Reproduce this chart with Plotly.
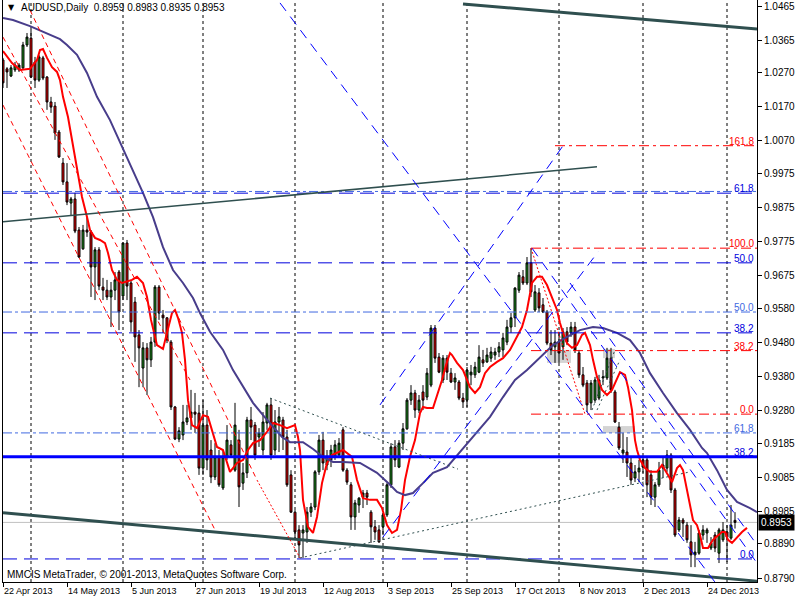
import plotly.graph_objects as go

# ---------------- data ----------------
bars = list(range(184))
opens = [1.0307,1.0281,1.0260,1.0278,1.0278,1.0284,1.0351,1.0371,1.0301,1.0248,
1.0313,1.0257,1.0184,1.0172,1.0096,1.0005,0.9950,0.9888,0.9900,0.9809,
0.9754,0.9809,0.9803,0.9701,0.9751,0.9642,0.9633,0.9613,0.9633,0.9686,
0.9616,0.9771,0.9654,0.9598,0.9502,0.9405,0.9464,0.9429,0.9481,0.9642,
0.9560,0.9552,0.9481,0.9291,0.9197,0.9209,0.9247,0.9259,0.9276,0.9273,
0.9112,0.9238,0.9165,0.9086,0.9145,0.9054,0.9145,0.9180,0.9106,0.9194,
0.9068,0.9098,0.9253,0.9238,0.9203,0.9165,0.9244,0.9297,0.9165,0.9247,
0.9253,0.9203,0.9092,0.8983,0.8931,0.8922,0.8925,0.8983,0.8998,0.9101,
0.9194,0.9121,0.9136,0.9145,0.9150,0.9224,0.9106,0.9063,0.8969,0.9004,
0.9027,0.9039,0.8983,0.8940,0.8931,0.8940,0.8975,0.9063,0.9174,0.9115,
0.9185,0.9227,0.9311,0.9332,0.9282,0.9335,0.9320,0.9355,0.9522,0.9437,
0.9370,0.9434,0.9390,0.9364,0.9364,0.9317,0.9311,0.9385,0.9385,0.9393,
0.9429,0.9423,0.9434,0.9443,0.9452,0.9458,0.9481,0.9525,0.9552,0.9633,
0.9672,0.9654,0.9713,0.9575,0.9625,0.9590,0.9569,0.9478,0.9467,0.9481,
0.9467,0.9511,0.9508,0.9525,0.9449,0.9385,0.9361,0.9303,0.9311,0.9317,
0.9376,0.9376,0.9434,0.9335,0.9232,0.9156,0.9159,0.9127,0.9083,0.9101,
0.9136,0.9136,0.9092,0.9027,0.9063,0.9112,0.9112,0.9150,0.9048,0.8931,
0.8960,0.8945,0.8896,0.8858,0.8863,0.8916,0.8922,0.8878,0.8916,0.8863,
0.8902,0.8925,0.8907,0.8959]
highs = [1.0313,1.0286,1.0292,1.0301,1.0298,1.0360,1.0386,1.0395,1.0316,1.0322,
1.0319,1.0260,1.0199,1.0184,1.0102,1.0020,1.0005,0.9906,0.9918,0.9818,
0.9824,0.9847,0.9809,0.9759,0.9759,0.9669,0.9663,0.9657,0.9686,0.9692,
0.9774,0.9780,0.9663,0.9613,0.9516,0.9481,0.9478,0.9496,0.9648,0.9648,
0.9575,0.9554,0.9487,0.9294,0.9232,0.9297,0.9297,0.9341,0.9332,0.9297,
0.9311,0.9282,0.9194,0.9185,0.9165,0.9165,0.9238,0.9194,0.9303,0.9224,
0.9127,0.9262,0.9291,0.9247,0.9229,0.9276,0.9303,0.9317,0.9282,0.9291,
0.9262,0.9224,0.9106,0.8989,0.8945,0.8945,0.8998,0.9010,0.9106,0.9209,
0.9218,0.9165,0.9180,0.9194,0.9200,0.9232,0.9112,0.9071,0.9019,0.9027,
0.9048,0.9048,0.8989,0.8960,0.8945,0.8981,0.9068,0.9185,0.9194,0.9194,
0.9244,0.9317,0.9355,0.9341,0.9326,0.9355,0.9405,0.9531,0.9531,0.9449,
0.9443,0.9443,0.9405,0.9390,0.9370,0.9332,0.9408,0.9414,0.9423,0.9472,
0.9458,0.9464,0.9467,0.9464,0.9481,0.9508,0.9546,0.9566,0.9642,0.9686,
0.9692,0.9730,0.9756,0.9648,0.9639,0.9610,0.9575,0.9516,0.9516,0.9511,
0.9522,0.9525,0.9540,0.9540,0.9458,0.9408,0.9370,0.9370,0.9379,0.9385,
0.9399,0.9464,0.9464,0.9341,0.9247,0.9215,0.9203,0.9145,0.9121,0.9136,
0.9145,0.9145,0.9106,0.9071,0.9130,0.9142,0.9165,0.9156,0.9054,0.8969,
0.8966,0.8954,0.8945,0.8896,0.8931,0.8945,0.8937,0.8910,0.8925,0.8937,
0.8954,0.8945,0.9004,0.8983]
lows = [1.0225,1.0225,1.0257,1.0272,1.0272,1.0278,1.0345,1.0254,1.0225,1.0243,
1.0248,1.0161,1.0152,1.0073,1.0020,0.9941,0.9882,0.9853,0.9800,0.9727,
0.9751,0.9789,0.9613,0.9604,0.9633,0.9604,0.9604,0.9525,0.9604,0.9516,
0.9604,0.9604,0.9511,0.9423,0.9349,0.9349,0.9326,0.9408,0.9467,0.9546,
0.9508,0.9478,0.9282,0.9194,0.9188,0.9194,0.9238,0.9224,0.9215,0.9092,
0.9092,0.9106,0.9068,0.9077,0.9057,0.9048,0.9136,0.9142,0.9101,0.8998,
0.9048,0.9083,0.9194,0.9136,0.9174,0.9150,0.9224,0.9136,0.9150,0.9159,
0.9165,0.9057,0.8981,0.8902,0.8849,0.8849,0.8893,0.8969,0.8989,0.9092,
0.9106,0.9106,0.9115,0.9136,0.9142,0.9101,0.9063,0.8931,0.8931,0.8981,
0.8995,0.9004,0.8893,0.8902,0.8893,0.8916,0.8969,0.9054,0.9115,0.9112,
0.9165,0.9224,0.9297,0.9259,0.9273,0.9282,0.9311,0.9349,0.9420,0.9390,
0.9361,0.9370,0.9361,0.9341,0.9311,0.9288,0.9291,0.9355,0.9376,0.9390,
0.9408,0.9420,0.9423,0.9429,0.9437,0.9437,0.9472,0.9508,0.9525,0.9625,
0.9648,0.9648,0.9613,0.9569,0.9569,0.9566,0.9472,0.9443,0.9420,0.9420,
0.9429,0.9472,0.9496,0.9449,0.9376,0.9349,0.9276,0.9282,0.9303,0.9311,
0.9355,0.9370,0.9332,0.9244,0.9165,0.9127,0.9086,0.9063,0.9071,0.9071,
0.9098,0.9027,0.9004,0.8998,0.9057,0.9083,0.9101,0.9039,0.8910,0.8925,
0.8910,0.8893,0.8822,0.8822,0.8858,0.8902,0.8893,0.8872,0.8866,0.8834,
0.8896,0.8837,0.8902,0.8935]
closes = [1.0240,1.0272,1.0284,1.0292,1.0292,1.0351,1.0374,1.0257,1.0248,1.0316,
1.0254,1.0184,1.0169,1.0093,1.0023,0.9950,0.9891,0.9900,0.9806,0.9730,
0.9809,0.9803,0.9701,0.9751,0.9645,0.9633,0.9613,0.9633,0.9663,0.9569,
0.9771,0.9645,0.9540,0.9496,0.9464,0.9464,0.9429,0.9481,0.9642,0.9566,
0.9552,0.9487,0.9291,0.9197,0.9221,0.9247,0.9259,0.9276,0.9270,0.9112,
0.9238,0.9136,0.9086,0.9145,0.9063,0.9145,0.9194,0.9150,0.9238,0.9057,
0.9098,0.9253,0.9232,0.9150,0.9215,0.9247,0.9297,0.9150,0.9247,0.9262,
0.9203,0.9063,0.8983,0.8925,0.8887,0.8931,0.8983,0.8998,0.9101,0.9194,
0.9127,0.9145,0.9165,0.9180,0.9185,0.9106,0.9071,0.8969,0.9010,0.9024,
0.9039,0.9027,0.8940,0.8925,0.8896,0.8975,0.9063,0.9174,0.9136,0.9185,
0.9227,0.9311,0.9332,0.9282,0.9311,0.9311,0.9390,0.9522,0.9434,0.9393,
0.9434,0.9393,0.9364,0.9376,0.9317,0.9306,0.9399,0.9393,0.9408,0.9437,
0.9420,0.9443,0.9452,0.9452,0.9467,0.9493,0.9525,0.9552,0.9639,0.9677,
0.9654,0.9713,0.9628,0.9628,0.9581,0.9569,0.9478,0.9458,0.9481,0.9449,
0.9511,0.9481,0.9525,0.9458,0.9385,0.9355,0.9297,0.9361,0.9370,0.9370,
0.9379,0.9434,0.9341,0.9247,0.9171,0.9165,0.9127,0.9077,0.9101,0.9112,
0.9115,0.9063,0.9027,0.9063,0.9106,0.9121,0.9150,0.9048,0.8916,0.8960,
0.8951,0.8902,0.8858,0.8866,0.8922,0.8931,0.8931,0.8893,0.8878,0.8931,
0.8931,0.8910,0.8945,0.8953]

# fast moving average (red), sampled along the drawn line (bar position, price)
red_ma_bar = [0,2.25,4.25,6.75,8.5,9.25,10,11,12.25,13.5,14.25,15,16.25,17.5,18.5,19.75,21,21.75,23,24.25,
25.5,26.25,27.25,28.5,29.75,32.25,33.5,35,36,37,38.5,40,41,42.25,43,43.75,44.75,45.5,46.25,47.25,
48.5,50,51.25,52.5,53.5,55,56.75,58.5,60,61.25,62.5,64.25,66,67.5,69.25,71,73,73.75,74.25,75,
76.25,77.5,78.5,79.75,81,82.25,83.5,85,87.25,88.5,90,91.75,93.5,94.75,96,97.25,98.5,99.5,100.5,101.75,
103,104.25,105,106,107.5,108.75,109.75,110.75,111.75,112.25,113.5,115,116.75,118,119.25,120.5,121.75,123.5,125,126.75,
128.5,129.75,131,132.25,133.5,134.75,136,137.25,138.5,139.25,140,141,142.25,143.5,144.75,145.5,146.75,147.5,148.5,149.75,
151,152.25,153.5,154.25,155.5,156.25,157.25,158,158.5,159.25,160.5,161.75,163.5,164.75,166.25,167.25,168.5,169.25,170,171,
171.75,172.5,173.5,174.25,175,176.25,177.5,178.75,179.75,180.5,181.25,182.25,183.5,184.75,186]
red_ma = [1.0333,1.0298,1.0278,1.0281,1.0307,1.0336,1.0339,1.0313,1.0286,1.0272,1.0248,1.0199,1.0140,1.0052,0.9985,0.9906,0.9847,0.9809,0.9786,0.9780,
0.9771,0.9742,0.9692,0.9663,0.9654,0.9663,0.9672,0.9654,0.9613,0.9546,0.9472,0.9461,0.9508,0.9566,0.9575,0.9552,0.9508,0.9429,0.9311,0.9238,
0.9229,0.9267,0.9262,0.9215,0.9174,0.9165,0.9101,0.9127,0.9136,0.9165,0.9185,0.9194,0.9218,0.9244,0.9238,0.9229,0.9238,0.9203,0.9165,0.9019,
0.8940,0.8922,0.8969,0.9068,0.9127,0.9150,0.9156,0.9165,0.9145,0.9077,0.9024,0.9019,0.9019,0.8995,0.8945,0.8922,0.8931,0.8989,0.9077,0.9145,
0.9194,0.9273,0.9291,0.9288,0.9288,0.9332,0.9370,0.9414,0.9449,0.9443,0.9420,0.9399,0.9349,0.9332,0.9349,0.9390,0.9408,0.9423,0.9434,0.9458,
0.9496,0.9525,0.9575,0.9654,0.9672,0.9672,0.9648,0.9613,0.9575,0.9537,0.9508,0.9478,0.9464,0.9472,0.9502,0.9508,0.9472,0.9429,0.9379,0.9341,
0.9326,0.9341,0.9376,0.9393,0.9385,0.9349,0.9282,0.9194,0.9165,0.9136,0.9112,0.9101,0.9101,0.9121,0.9092,0.9071,0.9112,0.9121,0.9106,0.9048,
0.8998,0.8960,0.8945,0.8916,0.8878,0.8878,0.8902,0.8916,0.8925,0.8925,0.8902,0.8893,0.8910,0.8925,0.8937]

# slow moving average (dark slate blue)
blue_ma_bar = [0,2.5,6.75,10,14.25,16,18.5,21,23.5,26.75,30,32.5,35,37.5,40,42.5,45,47.5,49.25,51.75,
55,57.5,60,62.5,65,67.25,69.75,71.75,75,77.5,80,82.5,85,89.25,93.5,96.75,98.5,100.5,102.5,105,
107.5,111,114.25,118.5,121.75,125,128,131,134.25,137.5,141,144.25,147.5,150,153.5,156.75,159.25,161.75,165,168.5,
171.75,174.75,176,178.5,181,183.5,186.75,188.5]
blue_ma = [1.0430,1.0424,1.0406,1.0389,1.0368,1.0351,1.0322,1.0269,1.0199,1.0131,1.0049,0.9985,0.9918,0.9847,0.9759,0.9692,0.9654,0.9610,0.9566,0.9511,
0.9458,0.9399,0.9349,0.9303,0.9267,0.9238,0.9203,0.9188,0.9188,0.9168,0.9145,0.9130,0.9130,0.9127,0.9098,0.9063,0.9042,0.9033,0.9039,0.9068,
0.9098,0.9115,0.9159,0.9215,0.9262,0.9320,0.9370,0.9399,0.9437,0.9472,0.9496,0.9516,0.9525,0.9522,0.9508,0.9487,0.9449,0.9390,0.9332,0.9273,
0.9224,0.9171,0.9156,0.9106,0.9048,0.9013,0.8995,0.8983]

date_tick_bars = [0, 16, 32, 48, 64, 80, 96, 112, 128, 144, 160, 176]
date_tick_text = ["22 Apr 2013", "14 May 2013", "5 Jun 2013", "27 Jun 2013", "19 Jul 2013",
                  "12 Aug 2013", "3 Sep 2013", "25 Sep 2013", "17 Oct 2013", "8 Nov 2013",
                  "2 Dec 2013", "24 Dec 2013"]
grid_bars = [7, 30, 50, 73, 95, 116, 139, 160, 181]
price_ticks = [1.0465, 1.0365, 1.0270, 1.0170, 1.0070, 0.9975, 0.9875, 0.9775, 0.9675,
               0.9580, 0.9480, 0.9380, 0.9280, 0.9185, 0.9085, 0.8985, 0.8890, 0.8790]

# horizontal objects
blue_dash_levels = [0.9917, 0.9713, 0.9508, 0.8846]
lightblue_dashdot_levels = [0.9922, 0.9569, 0.9215]
thick_blue_level = 0.9145
red_fib_levels = [0.9270, 0.9456, 0.9756, 1.0056]
red_fib_start_bars = [132, 132, 132, 138]
last_price = 0.8953
level_labels = [("161.8", 1.0056, "red"), ("61.8", 0.9917, "#0000DD"), ("100.0", 0.9756, "red"),
                ("50.0", 0.9713, "#0000DD"), ("50.0", 0.9569, "#4169E1"), ("38.2", 0.9508, "#0000DD"),
                ("38.2", 0.9456, "red"), ("0.0", 0.9270, "red"), ("61.8", 0.9215, "#4169E1"),
                ("38.2", 0.9145, "#0000DD"), ("0.0", 0.8846, "#0000DD")]

# trend lines: (bar0, price0, bar1, price1)
channel_thick = [(115.0, 1.0471, 188.5, 1.0398), (0.0, 0.8981, 188.5, 0.8781)]
slate_thin = [(0.0, 0.9833, 148.5, 0.9994)]
slate_dotted = [(66.75, 0.9317, 113.75, 0.9109), (74.25, 0.8849, 171.75, 0.9101),
                (147.25, 0.9282, 153.0, 0.9458), (148.5, 0.9282, 154.25, 0.9429)]
red_dotted = [(132.0, 0.9756, 145.5, 0.9270), (63.5, 0.9077, 74.25, 0.8849)]
red_dashed = [(0.0, 1.0175, 53.0, 0.8931), (6.75, 1.0453, 63.5, 0.9077), (0.0, 1.0374, 46.75, 0.9370)]
blue_dashed = [(69.25, 1.0474, 178.0, 0.8778), (94.25, 0.9297, 140.5, 1.0064),
               (132.25, 0.9756, 188.5, 0.8834), (141.75, 0.9654, 188.5, 0.8887),
               (95.0, 0.8910, 148.75, 0.9745)]
grey_boxes = [(136.0, 0.9458, 142.0, 0.9420), (150.0, 0.9461, 153.0, 0.9434), (150.0, 0.9235, 158.0, 0.9215)]

X_RANGE = [0, 188.5]
Y_RANGE = [0.87785, 1.04826]
FONT = "Liberation Sans, Arial, sans-serif"

fig = go.Figure()

shapes = []
for b in grid_bars:
    shapes.append(dict(type="line", xref="x", yref="paper", x0=b, x1=b, y0=0, y1=1, layer="below",
                       line=dict(color="black", width=1, dash="3px,3px")))
for (x0, y0, x1, y1) in grey_boxes:
    shapes.append(dict(type="rect", xref="x", yref="y", x0=x0, x1=x1, y0=y0, y1=y1, layer="below",
                       fillcolor="#D4D4D4", line=dict(width=0)))
shapes.append(dict(type="line", xref="paper", yref="y", x0=0, x1=1, y0=last_price, y1=last_price,
                   layer="below", line=dict(color="#C0C0C0", width=1)))

fig.add_trace(go.Candlestick(x=bars, open=opens, high=highs, low=lows, close=closes,
                             increasing=dict(line=dict(color="black", width=1), fillcolor="#1E9A1E"),
                             decreasing=dict(line=dict(color="black", width=1), fillcolor="#FF0000"),
                             whiskerwidth=0, showlegend=False, hoverinfo="skip"))
fig.add_trace(go.Scatter(x=red_ma_bar, y=red_ma, mode="lines", line=dict(color="#FF0000", width=2),
                         showlegend=False, hoverinfo="skip"))
fig.add_trace(go.Scatter(x=blue_ma_bar, y=blue_ma, mode="lines", line=dict(color="#483D8B", width=2),
                         showlegend=False, hoverinfo="skip"))

for lv in blue_dash_levels:
    shapes.append(dict(type="line", xref="paper", yref="y", x0=0, x1=1, y0=lv, y1=lv,
                       line=dict(color="#0000DD", width=1, dash="14px,7px")))
for lv in lightblue_dashdot_levels:
    shapes.append(dict(type="line", xref="paper", yref="y", x0=0, x1=1, y0=lv, y1=lv,
                       line=dict(color="#4169E1", width=1, dash="9px,3px,3px,3px")))
shapes.append(dict(type="line", xref="paper", yref="y", x0=0, x1=1, y0=thick_blue_level, y1=thick_blue_level,
                   line=dict(color="#0000FF", width=3)))
for lv, sb in zip(red_fib_levels, red_fib_start_bars):
    shapes.append(dict(type="line", xref="x", yref="y", x0=sb, x1=X_RANGE[1], y0=lv, y1=lv,
                       line=dict(color="#FF0000", width=1, dash="10px,4px,3px,4px")))

def add_lines(lst, color, width, dash):
    for (x0, y0, x1, y1) in lst:
        shapes.append(dict(type="line", xref="x", yref="y", x0=x0, x1=x1, y0=y0, y1=y1,
                           line=dict(color=color, width=width, dash=dash)))

add_lines(channel_thick, "#2F4F4F", 3, "solid")
add_lines(slate_thin, "#2F4F4F", 1.5, "solid")
add_lines(slate_dotted, "#2F4F4F", 1, "2px,3px")
add_lines(red_dotted, "#FF0000", 1, "2px,2px")
add_lines(red_dashed, "#FF0000", 1, "5px,4px")
add_lines(blue_dashed, "#0000FF", 1, "10px,7px")

annotations = []
for (txt, lv, col) in level_labels:
    annotations.append(dict(text=txt, xref="paper", yref="y", x=0.998, y=lv, xanchor="right", yanchor="bottom",
                            showarrow=False, font=dict(family=FONT, size=10, color=col), yshift=-2,
                            borderpad=0))
annotations.append(dict(text="▼", xref="paper", yref="paper", x=0.0035, y=0.9985, xanchor="left", yanchor="top",
                        showarrow=False, font=dict(family="DejaVu Sans", size=8, color="black")))
annotations.append(dict(text="AUDUSD,Daily  0.8959 0.8983 0.8935 0.8953", xref="paper", yref="paper",
                        x=0.021, y=1.0, xanchor="left", yanchor="top", showarrow=False,
                        font=dict(family=FONT, size=10, color="black")))
annotations.append(dict(text="MMCIS MetaTrader, © 2001-2013, MetaQuotes Software Corp.", xref="paper", yref="paper",
                        x=0.003, y=0.0, xanchor="left", yanchor="bottom", showarrow=False, yshift=0,
                        font=dict(family=FONT, size=10, color="black")))
annotations.append(dict(text=f"{last_price:.4f}", xref="paper", yref="y", x=1.0, y=last_price, xanchor="left",
                        yanchor="middle", showarrow=False, bgcolor="black", xshift=1, borderpad=2,
                        font=dict(family=FONT, size=10, color="white")))

fig.update_layout(
    width=800, height=600,
    margin=dict(l=3, r=43, t=0, b=18, pad=0),
    paper_bgcolor="white", plot_bgcolor="white",
    showlegend=False,
    shapes=shapes, annotations=annotations,
    xaxis=dict(range=X_RANGE, tickmode="array", tickvals=date_tick_bars, ticktext=date_tick_text,
               ticks="outside", ticklen=4, tickcolor="black", showgrid=False, zeroline=False,
               showline=True, linecolor="black", linewidth=1, rangeslider=dict(visible=False),
               ticklabelposition="outside right",
               tickfont=dict(family=FONT, size=9, color="black"), fixedrange=True),
    yaxis=dict(range=Y_RANGE, side="right", tickmode="array", tickvals=price_ticks,
               ticktext=[f"{v:.4f}" for v in price_ticks], ticks="outside", ticklen=4, tickcolor="black",
               showgrid=False, zeroline=False, showline=True, mirror=True, linecolor="black", linewidth=1,
               tickfont=dict(family=FONT, size=10, color="black"), fixedrange=True),
)

fig.write_html("out.html", config={"displayModeBar": False},
               post_script="document.body.style.margin='0px';document.documentElement.style.overflow='hidden';")
